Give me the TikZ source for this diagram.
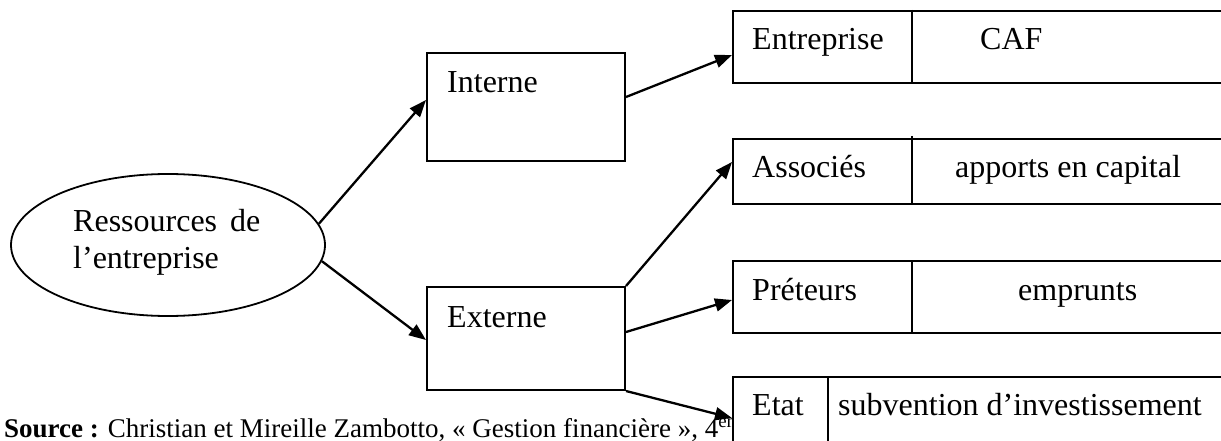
\documentclass[tikz,border=0pt]{standalone}
\usepackage{fontspec}
\setmainfont{Liberation Serif}
\usetikzlibrary{arrows.meta,shapes.geometric,calc}
\begin{document}
\begin{tikzpicture}[x=1pt,y=-1pt,
  box/.style={draw,line width=2pt,inner sep=0pt,anchor=north west,fill=white},
  lbl/.style={anchor=base west,inner sep=0pt,font=\fontsize{32}{38}\selectfont},
  arr/.style={line width=2.3pt,-{Triangle[length=17pt,width=13pt]}},
  divider/.style={line width=1.8pt}]
\useasboundingbox (0,0) rectangle (1221,441);
\clip (0,0) rectangle (1221,441);

% source line (drawn first, partly hidden by the Etat box)
\node[anchor=base west,inner sep=0pt,font=\fontsize{27}{30}\selectfont] (src) at (4,437)
  {\textbf{Source :} Christian et Mireille Zambotto, « Gestion financière », 4\textsuperscript{ème}};

% main ellipse
\node[draw,ellipse,line width=1.8pt,minimum width=314pt,minimum height=142pt,inner sep=0pt] (res) at (168,245) {};
\node[lbl] (res1) at (73,231) {Ressources\hspace{13pt}de};
\node[lbl] (res2) at (73,268) {l’entreprise};

% middle boxes
\node[box,minimum width=198pt,minimum height=108pt] (int) at (426,52) {};
\node[lbl] (intl) at (447,93) {Interne};
\node[box,minimum width=198pt,minimum height=103pt] (ext) at (426,286) {};
\node[lbl] (extl) at (447,327) {Externe};

% right boxes
\node[box,minimum width=600pt,minimum height=72pt] (entr) at (732,10) {};
\draw[divider] ($(entr.north west)+(180,0)$) -- ($(entr.south west)+(180,0)$);
\node[lbl] (entrl) at (752,50) {Entreprise};
\node[lbl] (caf) at (980,50) {CAF};

\node[box,minimum width=600pt,minimum height=65pt] (asso) at (732,138) {};
\draw[divider] ($(asso.north west)+(180,-2)$) -- ($(asso.south west)+(180,0)$);
\node[lbl] (assol) at (752,177) {Associés};
\node[lbl] (capl) at (955,177) {apports en capital};

\node[box,minimum width=600pt,minimum height=72pt] (pret) at (732,260) {};
\draw[divider] ($(pret.north west)+(180,0)$) -- ($(pret.south west)+(180,0)$);
\node[lbl] (pretl) at (752,300) {Préteurs};
\node[lbl] (empl) at (1018,300) {emprunts};

\node[box,minimum width=600pt,minimum height=100pt] (etat) at (732,376) {};
\draw[divider] ($(etat.north west)+(96,0)$) -- ($(etat.south west)+(96,0)$);
\node[lbl] (etatl) at (752,415) {Etat};
\node[lbl] (subl) at (838,415) {subvention d’investissement};

% connectors
\draw[arr] (res.8) -- ($(int.north west)+(0,48)$);
\draw[arr] (res.-6) -- ($(ext.north west)+(0,54)$);
\draw[arr] ($(int.north east)+(0,45)$) -- ($(entr.north west)+(0,45)$);
\draw[arr] (ext.north east) -- ($(asso.north west)+(0,24)$);
\draw[arr] ($(ext.north east)+(0,46)$) -- ($(pret.north west)+(0,40)$);
\draw[arr] (ext.south east) -- ($(etat.north west)+(0,42)$);
\end{tikzpicture}
\end{document}
